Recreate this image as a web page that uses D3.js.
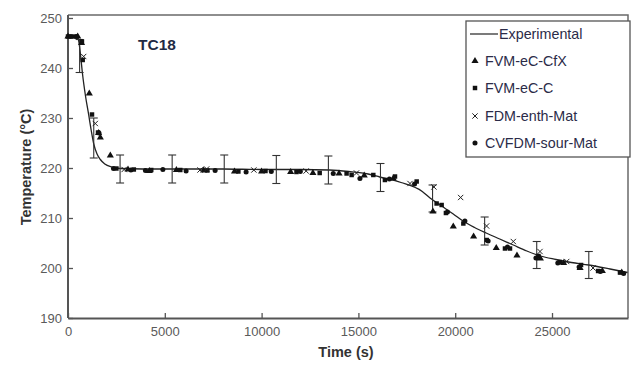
<!DOCTYPE html>
<html>
<head>
<meta charset="utf-8">
<script src="https://cdn.jsdelivr.net/npm/d3@7"></script>
<style>
  body { margin: 0; background: #fff; }
  svg { font-family: "Liberation Sans", Arial, sans-serif; }
</style>
</head>
<body>
<div id="chart"></div>
<script>
// Experimental curve (time s, temperature °C)
const expTime = [0, 450, 550, 650, 750, 900, 1070, 1200, 1330, 1500, 1670, 1900, 2270, 2700, 5000, 8000, 10000, 12000, 13500, 14500, 15500, 16100, 17200, 18300, 18700, 19300, 19900, 20400, 21000, 21600, 22300, 23000, 23700, 24400, 25200, 26000, 26900, 28000, 28900];
const expTemp = [246.3, 246.3, 245.5, 242.5, 238.8, 234.5, 230.6, 227.5, 224.8, 222.8, 221.7, 220.8, 220.2, 219.9, 219.8, 219.8, 219.7, 219.7, 219.6, 219.3, 218.8, 218.2, 217.1, 215.3, 214.0, 212.4, 210.8, 209.4, 208.1, 207.0, 205.8, 204.6, 203.4, 202.4, 201.7, 201.1, 200.6, 199.8, 199.1];

// Error bars on the experimental curve
const errTime = [600, 1330, 2690, 5380, 8070, 10760, 13450, 16140, 18830, 21520, 24210, 26900];
const errMid = [242.4, 226.0, 219.8, 219.8, 219.8, 219.7, 219.6, 218.1, 213.9, 207.4, 202.6, 200.6];
const errHalf = [3.3, 4.0, 2.8, 2.8, 2.8, 2.8, 2.8, 2.8, 2.7, 2.8, 2.7, 2.7];

// Model series
const cfxTime = [0, 500, 700, 1100, 1580, 1670, 2185, 3100, 4200, 5600, 7000, 8600, 10000, 11500, 12650, 14000, 15300, 16800, 18850, 19900, 20950, 22120, 23190, 24400, 25600, 26450, 27600, 28600];
const cfxTemp = [246.3, 246.3, 245.0, 234.9, 227.0, 226.1, 222.5, 219.7, 219.4, 219.6, 219.5, 219.3, 219.3, 219.2, 219.0, 218.9, 218.5, 217.9, 211.3, 208.3, 206.3, 204.0, 202.5, 201.9, 201.0, 200.0, 199.4, 199.1];

const cTime = [0, 300, 720, 760, 1240, 1550, 2500, 3400, 4300, 5800, 7200, 8800, 10200, 11800, 13000, 14390, 14650, 15770, 16370, 16890, 18010, 19040, 19300, 19520, 20420, 21626, 22570, 22830, 24300, 25400, 26500, 27380, 28510];
const cTemp = [246.3, 246.3, 245.3, 241.6, 230.7, 227.1, 219.9, 219.7, 219.6, 219.6, 219.5, 219.3, 219.4, 219.2, 219.0, 218.9, 218.6, 218.6, 217.6, 218.3, 217.3, 212.9, 212.6, 211.0, 208.9, 205.6, 203.9, 203.9, 202.4, 201.2, 200.6, 199.4, 199.1];

const enthTime = [810, 1410, 2900, 6820, 7160, 9600, 12300, 14900, 17665, 18900, 20280, 21620, 23000, 24380, 25760, 27120];
const enthTemp = [242.3, 228.9, 219.7, 219.6, 219.8, 219.6, 219.4, 219.0, 216.9, 216.2, 214.1, 208.4, 205.3, 203.3, 201.3, 200.0];

const sourTime = [150, 450, 1600, 2350, 3250, 4000, 4900, 6100, 7600, 9200, 10500, 12000, 13700, 15080, 16600, 17900, 19600, 20500, 21700, 22700, 24170, 25300, 26400, 27500, 28700];
const sourTemp = [246.3, 246.3, 227.0, 219.9, 219.6, 219.5, 219.7, 219.4, 219.5, 219.2, 219.3, 219.3, 218.9, 217.9, 217.8, 216.8, 211.2, 209.4, 205.4, 204.2, 202.0, 201.0, 200.2, 199.3, 198.9];

const legendLabels = ["Experimental", "FVM-eC-CfX", "FVM-eC-C", "FDM-enth-Mat", "CVFDM-sour-Mat"];
const xTicks = [0, 5000, 10000, 15000, 20000, 25000];
const yTicks = [190, 200, 210, 220, 230, 240, 250];

const width = 636, height = 365;
const plotLeft = 68, plotRight = 628, plotTop = 15, plotBottom = 318;

const svg = d3.select("#chart").append("svg")
    .attr("width", width)
    .attr("height", height);

const x = d3.scaleLinear().domain([0, 28925]).range([plotLeft, plotRight]);
const y = d3.scaleLinear().domain([190, 250]).range([plotBottom, 18]);

// Frame (top and right)
svg.append("path")
    .attr("d", `M${plotLeft},${plotTop}H${plotRight}V${plotBottom}`)
    .attr("fill", "none")
    .attr("stroke", "#6a6a6a")
    .attr("stroke-width", 1.5);

// Axes
const xAxis = svg.append("g")
    .attr("transform", `translate(0,${plotBottom})`)
    .call(d3.axisBottom(x).tickValues(xTicks).tickFormat(d3.format("d"))
        .tickSize(-5).tickSizeOuter(0).tickPadding(6));
const yAxis = svg.append("g")
    .attr("transform", `translate(${plotLeft},0)`)
    .call(d3.axisLeft(y).tickValues(yTicks).tickSize(-5).tickSizeOuter(0).tickPadding(6));

[xAxis, yAxis].forEach(g => {
    g.select(".domain").attr("stroke", "#555").attr("stroke-width", 2);
    g.selectAll(".tick line").attr("stroke", "#555").attr("stroke-width", 1.3);
    g.selectAll(".tick text")
        .attr("fill", "#5a5a5a")
        .style("font-size", "13px")
        .style("font-family", "'Liberation Sans', Arial, sans-serif");
});
yAxis.select(".domain").attr("d", `M0,${plotTop}V${plotBottom}`);
xAxis.selectAll(".tick text").attr("dy", "0.9em");
yAxis.selectAll(".tick text").attr("dy", "0.35em");

// Axis titles
svg.append("text")
    .attr("x", 346).attr("y", 357)
    .attr("text-anchor", "middle")
    .attr("font-size", 14.5).attr("font-weight", "bold")
    .attr("fill", "#333")
    .text("Time (s)");
svg.append("text")
    .attr("transform", "translate(31,167) rotate(-90)")
    .attr("text-anchor", "middle")
    .attr("font-size", 14.5).attr("font-weight", "bold")
    .attr("fill", "#333")
    .text("Temperature (°C)");

// Title inside plot
svg.append("text")
    .attr("x", 157).attr("y", 50)
    .attr("text-anchor", "middle")
    .attr("font-size", 15.5).attr("font-weight", "bold")
    .attr("fill", "#1f2a44")
    .text("TC18");

// Experimental line
const line = d3.line().x((d, i) => x(expTime[i])).y(d => y(d)).curve(d3.curveMonotoneX);
svg.append("path")
    .datum(expTemp)
    .attr("d", line)
    .attr("fill", "none")
    .attr("stroke", "#222")
    .attr("stroke-width", 1.3);

// Error bars
const err = svg.append("g").attr("stroke", "#333").attr("stroke-width", 1.1);
errTime.forEach((t, i) => {
    const cx = x(t), y1 = y(errMid[i] + errHalf[i]), y2 = y(errMid[i] - errHalf[i]);
    err.append("line").attr("x1", cx).attr("x2", cx).attr("y1", y1).attr("y2", y2);
    err.append("line").attr("x1", cx - 4).attr("x2", cx + 4).attr("y1", y1).attr("y2", y1);
    err.append("line").attr("x1", cx - 4).attr("x2", cx + 4).attr("y1", y2).attr("y2", y2);
});

// Markers
const triSym = d3.symbol().type(d3.symbolTriangle).size(22);
const sqSym = d3.symbol().type(d3.symbolSquare).size(20);
const xSym = d3.symbol().type(d3.symbolTimes).size(20);
const dotSym = d3.symbol().type(d3.symbolCircle).size(20);

const drawSeries = (times, temps, sym, isStroke) => {
    svg.append("g").selectAll("path")
        .data(temps)
        .join("path")
        .attr("transform", (d, i) => `translate(${x(times[i])},${y(d)})`)
        .attr("d", sym)
        .attr("fill", isStroke ? "none" : "#111")
        .attr("stroke", isStroke ? "#222" : "none")
        .attr("stroke-width", isStroke ? 1 : 0);
};
drawSeries(cfxTime, cfxTemp, triSym, false);
drawSeries(cTime, cTemp, sqSym, false);
drawSeries(enthTime, enthTemp, xSym, true);
drawSeries(sourTime, sourTemp, dotSym, false);

// Legend
const lg = svg.append("g");
lg.append("rect")
    .attr("x", 466).attr("y", 21).attr("width", 164).attr("height", 136)
    .attr("fill", "#fff").attr("stroke", "#555").attr("stroke-width", 1.3);
const legendY = [34, 61, 88, 116, 143];
const legendSyms = [null, triSym, sqSym, xSym, dotSym];
legendLabels.forEach((lab, i) => {
    const ly = legendY[i];
    if (i === 0) {
        lg.append("line").attr("x1", 470).attr("x2", 498).attr("y1", ly).attr("y2", ly)
            .attr("stroke", "#222").attr("stroke-width", 1.2);
    } else {
        lg.append("path")
            .attr("transform", `translate(475,${ly})`)
            .attr("d", legendSyms[i])
            .attr("fill", i === 3 ? "none" : "#111")
            .attr("stroke", i === 3 ? "#222" : "none");
    }
    lg.append("text")
        .attr("x", i === 0 ? 499 : 485).attr("y", ly)
        .attr("dy", "0.35em")
        .attr("font-size", 14.3)
        .attr("fill", "#2b2b48")
        .text(lab);
});
</script>
</body>
</html>
